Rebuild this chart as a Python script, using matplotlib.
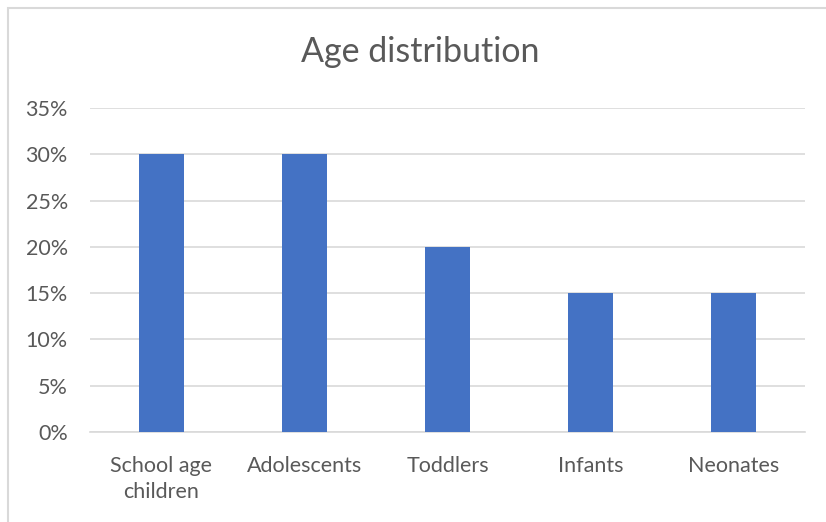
import matplotlib.pyplot as plt
from matplotlib.patches import Rectangle
from matplotlib.ticker import PercentFormatter

# data
categories = ["School age\nchildren", "Adolescents", "Toddlers", "Infants", "Neonates"]
shares = [30, 30, 20, 15, 15]
yticks = [0, 5, 10, 15, 20, 25, 30, 35]

W, H = 826, 522
fig = plt.figure(figsize=(W / 100, H / 100), dpi=100)
plt.rcParams['font.family'] = ['Lato', 'DejaVu Sans']

# chart-area frame (right/bottom edges run off the image)
fig.patches.append(Rectangle((8 / W, -0.05), 1.2, 1 - 8 / H + 0.05,
                             transform=fig.transFigure, fill=False,
                             edgecolor='#d9d9d9', linewidth=1.5))

ax = fig.add_axes([90 / W, 1 - 432 / H, (805 - 90) / W, (432 - 108) / H])
x = range(len(categories))
ax.bar(x, shares, width=0.31, color='#4472c4', zorder=3)

ax.set_xlim(-0.5, len(categories) - 0.5)
ax.set_ylim(0, 35)
ax.set_yticks(yticks)
ax.yaxis.set_major_formatter(PercentFormatter(decimals=0))
ax.set_xticks(list(x))
ax.set_xticklabels(categories, linespacing=1.4)
ax.grid(axis='y', color='#d9d9d9', linewidth=1.2, zorder=0)
for s in ['top', 'right', 'left']:
    ax.spines[s].set_visible(False)
ax.spines['bottom'].set_color('#d9d9d9')
ax.spines['bottom'].set_linewidth(1.2)
ax.tick_params(length=0, labelsize=15.5, colors='#595959')
ax.tick_params(axis='y', pad=16)
ax.tick_params(axis='x', pad=17)

fig.text(420 / W, 1 - 52 / H, "Age distribution", ha='center', va='center',
         fontsize=24.5, color='#595959')

fig.savefig("out.png", dpi=100)
